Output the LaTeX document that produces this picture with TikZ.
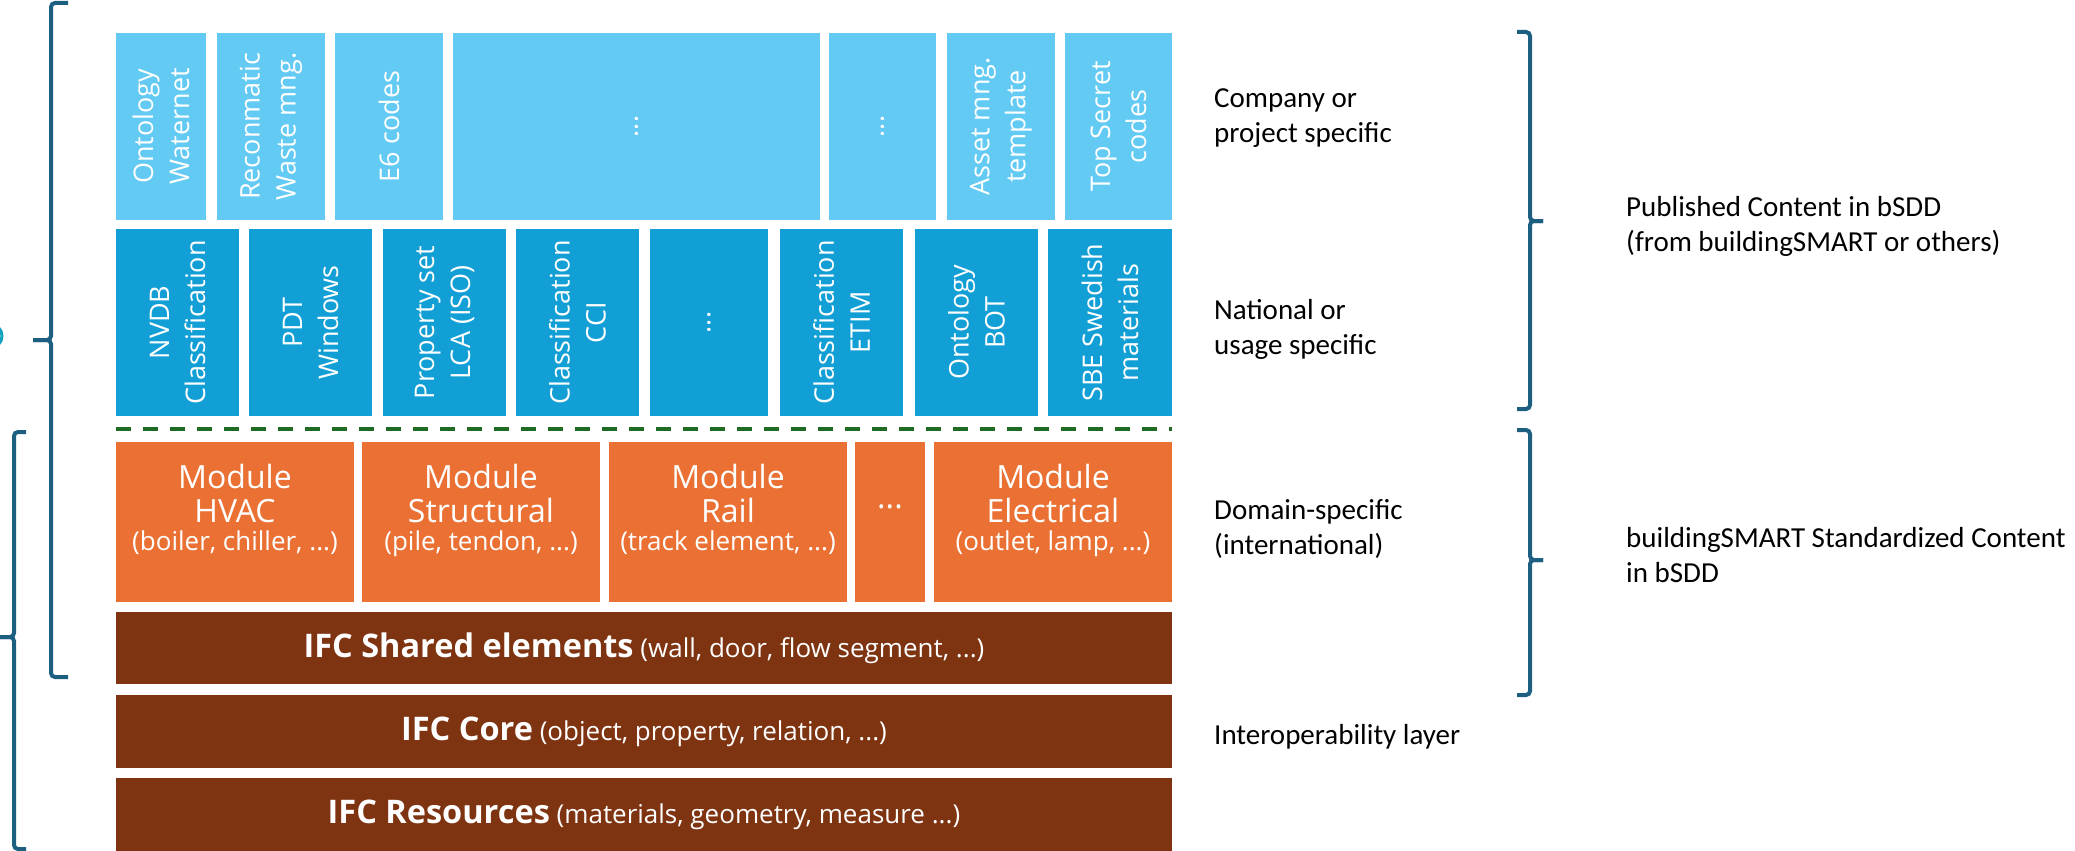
\documentclass[tikz,border=0pt]{standalone}
\usepackage{fontspec}
\setmainfont{Carlito}
\newfontfamily\boxfont{Open Sans}
\definecolor{skyblue}{RGB}{99,202,243}
\definecolor{oceanblue}{RGB}{18,159,213}
\definecolor{modorange}{RGB}{234,113,51}
\definecolor{ifcbrown}{RGB}{126,51,17}
\definecolor{dashgreen}{RGB}{31,107,35}
\definecolor{bracketblue}{RGB}{28,95,128}
\definecolor{tealmark}{RGB}{20,160,190}
\begin{document}
\begin{tikzpicture}[x=1pt, y=-1pt,
    topbox/.style={fill=skyblue, text=white, rotate=90, inner sep=0pt, align=center,
      minimum width=187pt, font=\boxfont\fontsize{27}{36}\selectfont},
    natbox/.style={topbox, fill=oceanblue},
    modbox/.style={fill=modorange, text=white, inner sep=0pt, align=center, text depth=30pt,
      minimum height=160pt, font=\boxfont\fontsize{32}{34}\selectfont},
    ifcbar/.style={fill=ifcbrown, text=white, inner sep=0pt, minimum width=1056pt,
      font=\boxfont\fontsize{26}{30}\selectfont},
    sidelabel/.style={anchor=west, align=left, inner sep=0pt, font=\fontsize{29}{35}\selectfont},
    brace/.style={draw=bracketblue, line width=4pt, rounded corners=4pt},
    divider/.style={draw=dashgreen, line width=4pt, dash pattern=on 15pt off 12pt}]
  \useasboundingbox (0,0) rectangle (2075,851);
  %
  \node[topbox, minimum height=90pt]  (co1) at (161,126.5)   {Ontology\\Waternet};     % company row
  \node[topbox, minimum height=108pt] (co2) at (271,126.5)   {Reconmatic\\Waste mng.};
  \node[topbox, minimum height=108pt] (co3) at (389,126.5)   {E6 codes};
  \node[topbox, minimum height=367pt] (co4) at (636.5,126.5) {...};
  \node[topbox, minimum height=107pt] (co5) at (882.5,126.5) {...};
  \node[topbox, minimum height=108pt] (co6) at (1001,126.5)  {Asset mng.\\template};
  \node[topbox, minimum height=107pt] (co7) at (1118.5,126.5) {Top Secret\\codes};
  %
  \node[natbox, minimum height=123pt] (na1) at (177.5,322.5) {NVDB\\Classification}; % national row
  \node[natbox, minimum height=123pt] (na2) at (310.5,322.5) {PDT\\Windows};
  \node[natbox, minimum height=123pt] (na3) at (444.5,322.5) {Property set\\LCA (ISO)};
  \node[natbox, minimum height=123pt] (na4) at (577.5,322.5) {Classification\\CCI};
  \node[natbox, minimum height=118pt] (na5) at (709,322.5)   {...};
  \node[natbox, minimum height=123pt] (na6) at (841.5,322.5) {Classification\\ETIM};
  \node[natbox, minimum height=123pt] (na7) at (976.5,322.5) {Ontology\\BOT};
  \node[natbox, minimum height=124pt] (na8) at (1110,322.5)  {SBE Swedish\\materials};
  %
  \draw[divider] (116,429) -- (1172,429);                   % green dashes
  %
  \node[modbox, minimum width=238pt] (mo1) at (235,522)  {Module\\HVAC\\[-6pt]{\fontsize{26}{30}\selectfont(boiler, chiller, ...)}}; % modules
  \node[modbox, minimum width=238pt] (mo2) at (481,522)  {Module\\Structural\\[-6pt]{\fontsize{26}{30}\selectfont(pile, tendon, ...)}};
  \node[modbox, minimum width=238pt] (mo3) at (728,522)  {Module\\Rail\\[-6pt]{\fontsize{26}{30}\selectfont(track element, ...)}};
  \node[modbox, minimum width=70pt]  (mo4) at (890,522)  {...};
  \node[modbox, minimum width=238pt] (mo5) at (1053,522) {Module\\Electrical\\[-6pt]{\fontsize{26}{30}\selectfont(outlet, lamp, ...)}};
  %
  \node[ifcbar, minimum height=72pt] (shared) at (644,648)  {{\fontsize{32.5}{36}\selectfont\bfseries IFC Shared elements} (wall, door, flow segment, ...)};
  \node[ifcbar, minimum height=73pt] (core)   at (644,731.5) {{\fontsize{32.5}{36}\selectfont\bfseries IFC Core} (object, property, relation, ...)};
  \node[ifcbar, minimum height=75pt] (res)    at (644,815)  {{\fontsize{32.5}{36}\selectfont\bfseries IFC Resources} (materials, geometry, measure ...)};
  %
  \node[sidelabel] (lcomp) at (1214,118)   {Company or\\project specific};
  \node[sidelabel] (lnat)  at (1214,329.5) {National or\\usage specific};
  \node[sidelabel] (ldom)  at (1214,528.5) {Domain-specific\\(international)};
  \node[sidelabel] (lint)  at (1214,737)   {Interoperability layer};
  \node[sidelabel] (lpub)  at (1626,226)   {Published Content in bSDD\\(from buildingSMART or others)};
  \node[sidelabel] (lstd)  at (1626,555)   {buildingSMART Standardized Content\\in bSDD};
  %
  \draw[brace] (1517,32) -- (1530,32) -- (1530,221) -- (1543,221);    % right brackets
  \draw[brace] (1543,221) -- (1530,221) -- (1530,409) -- (1517,409);
  \draw[brace] (1517,430) -- (1530,430) -- (1530,560) -- (1543,560);
  \draw[brace] (1543,560) -- (1530,560) -- (1530,695) -- (1517,695);
  %
  \draw[brace] (68,3) -- (51,3) -- (51,340) -- (33,340);             % left brackets
  \draw[brace] (33,340) -- (51,340) -- (51,677) -- (68,677);
  \draw[brace] (26,432) -- (14,432) -- (14,637) -- (0,637);
  \draw[brace] (0,637) -- (14,637) -- (14,849) -- (26,849);
  \draw[tealmark, line width=3pt] (-10,336) circle (12);
\end{tikzpicture}
\end{document}
